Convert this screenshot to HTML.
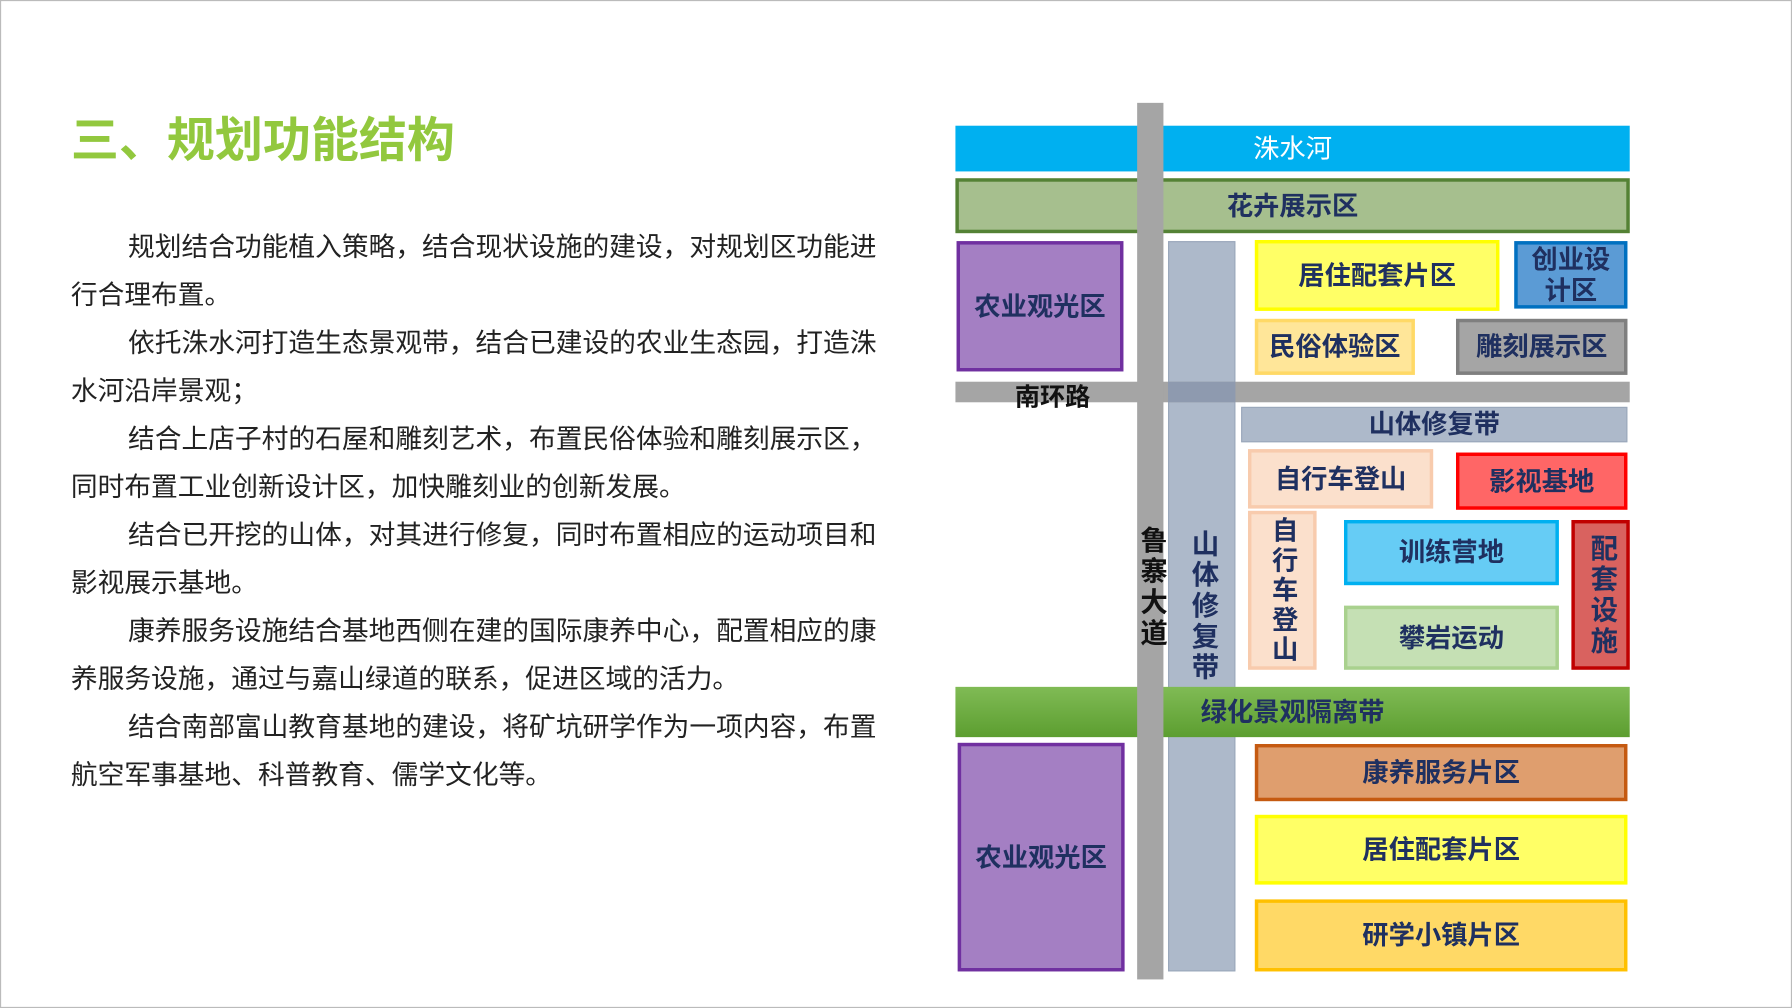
<!DOCTYPE html>
<html><head><meta charset="utf-8"><style>
html,body{margin:0;padding:0;background:#fff;overflow:hidden}
#w{position:absolute;left:0;top:0;width:1568px;height:882px;transform:scale(1.142857);transform-origin:0 0;font-family:"Liberation Sans","Noto Sans CJK SC",sans-serif}
.b{position:absolute;box-sizing:border-box;display:flex;align-items:center;justify-content:center;font-weight:bold;color:#1f3060;font-size:23px;text-align:center;line-height:1.15}
.p{position:absolute;left:62px;font-size:23.4px;color:#222;white-space:nowrap}
.v{writing-mode:vertical-rl;text-orientation:upright;letter-spacing:2px;white-space:nowrap}
</style></head><body><div id="w">
<div style="position:absolute;left:0;top:0;width:1566px;height:880px;border:1px solid #bbb"></div>
<div style="position:absolute;left:62px;top:89px;font-size:42px;font-weight:bold;color:#92c83e">三、规划功能结构</div>
<div class="p" style="top:197px;left:112px">规划结合功能植入策略，结合现状设施的建设，对规划区功能进</div>
<div class="p" style="top:239px">行合理布置。</div>
<div class="p" style="top:281px;left:112px">依托洙水河打造生态景观带，结合已建设的农业生态园，打造洙</div>
<div class="p" style="top:323px">水河沿岸景观；</div>
<div class="p" style="top:365px;left:112px">结合上店子村的石屋和雕刻艺术，布置民俗体验和雕刻展示区，</div>
<div class="p" style="top:407px">同时布置工业创新设计区，加快雕刻业的创新发展。</div>
<div class="p" style="top:449px;left:112px">结合已开挖的山体，对其进行修复，同时布置相应的运动项目和</div>
<div class="p" style="top:491px">影视展示基地。</div>
<div class="p" style="top:533px;left:112px">康养服务设施结合基地西侧在建的国际康养中心，配置相应的康</div>
<div class="p" style="top:575px">养服务设施，通过与嘉山绿道的联系，促进区域的活力。</div>
<div class="p" style="top:617px;left:112px">结合南部富山教育基地的建设，将矿坑研学作为一项内容，布置</div>
<div class="p" style="top:659px">航空军事基地、科普教育、儒学文化等。</div>

<div class="b" style="left:836px;top:110px;width:590px;height:40px;background:#00b0f0;color:#fff;font-weight:normal;font-size:23px">洙水河</div>
<div class="b" style="left:836px;top:156px;width:590px;height:48px;background:#a6bf8e;border:3px solid #548235">花卉展示区</div>
<div class="b" style="left:837px;top:211px;width:146px;height:114px;background:#a47fc3;border:3px solid #7030a0">农业观光区</div>
<div class="b" style="left:1022px;top:211px;width:59px;height:639px;background:#adb9ca;border:1px solid #9aa8bb"></div>
<div class="b" style="left:1098px;top:210px;width:214px;height:62px;background:#ffff66;border:3px solid #ffff00">居住配套片区</div>
<div class="b" style="left:1325px;top:211px;width:99px;height:59px;background:#5b9bd5;border:3px solid #0070c0">创业设<br>计区</div>
<div class="b" style="left:1098px;top:279px;width:140px;height:49px;background:#ffe699;border:3px solid #ffd966">民俗体验区</div>
<div class="b" style="left:1274px;top:279px;width:150px;height:49px;background:#a5a5a5;border:3px solid #7f7f7f">雕刻展示区</div>
<div style="position:absolute;left:836px;top:334px;width:590px;height:18px;background:#a5a5a5"></div>
<div style="position:absolute;left:1022px;top:334px;width:59px;height:18px;background:#8e9aaf"></div>
<div class="b" style="left:870px;top:334px;width:102px;height:28px;color:#111;font-size:22px">南环路</div>
<div class="b" style="left:1086px;top:356px;width:338px;height:31px;background:#adb9ca;border:1px solid #9aa8bb">山体修复带</div>
<div class="b" style="left:1092px;top:393px;width:162px;height:52px;background:#fbe0cc;border:3px solid #f8cbad">自行车登山</div>
<div class="b" style="left:1274px;top:396px;width:150px;height:50px;background:#ff6666;border:3px solid #ff0000">影视基地</div>
<div class="b" style="left:1092px;top:447px;width:60px;height:139px;background:#fbe0cc;border:3px solid #f8cbad"></div>
<div class="b v" style="left:1092px;top:447px;width:60px;height:139px;font-size:23px;letter-spacing:3px;line-height:1">自行车登山</div>
<div class="b" style="left:1176px;top:455px;width:188px;height:57px;background:#66ccf5;border:3px solid #00b0f0">训练营地</div>
<div class="b" style="left:1176px;top:530px;width:188px;height:56px;background:#c5e0b4;border:3px solid #a9d18e">攀岩运动</div>
<div class="b v" style="left:1375px;top:455px;width:51px;height:131px;background:#d9625f;border:3px solid #c00000;font-size:24px;letter-spacing:3px">配套设施</div>
<div class="b" style="left:836px;top:601px;width:590px;height:44px;background:linear-gradient(#80bb55,#5c9e30)">绿化景观隔离带</div>
<div style="position:absolute;left:995px;top:90px;width:23px;height:767px;background:#a5a5a5"></div>
<div class="b v" style="left:993px;top:455px;width:27px;height:118px;color:#111;font-size:24px;letter-spacing:3px">鲁寨大道</div>
<div class="b v" style="left:1022px;top:460px;width:59px;height:140px;font-size:24px;letter-spacing:3px">山体修复带</div>
<div class="b" style="left:838px;top:650px;width:146px;height:200px;background:#a47fc3;border:3px solid #7030a0">农业观光区</div>
<div class="b" style="left:1098px;top:651px;width:326px;height:50px;background:#df9e6e;border:3px solid #c55a11">康养服务片区</div>
<div class="b" style="left:1098px;top:713px;width:326px;height:61px;background:#ffff66;border:3px solid #ffff00">居住配套片区</div>
<div class="b" style="left:1098px;top:787px;width:326px;height:63px;background:#ffd966;border:3px solid #ffc000">研学小镇片区</div>
</div></body></html>
